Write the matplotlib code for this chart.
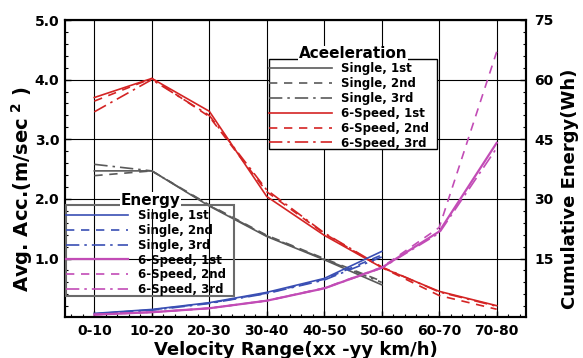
import matplotlib
matplotlib.use("Agg")
import matplotlib.pyplot as plt
from matplotlib.patches import Rectangle
from matplotlib.ticker import MultipleLocator

categories = ['0-10', '10-20', '20-30', '30-40', '40-50', '50-60', '60-70', '70-80']

# Acceleration (left axis, m/sec^2)
acc_single_1st = [2.47, 2.47, 1.88, 1.37, 0.98, 0.56]
acc_single_2nd = [2.39, 2.47, 1.90, 1.39, 1.00, 0.62]
acc_single_3rd = [2.58, 2.47, 1.89, 1.38, 0.99, 0.60]
acc_six_1st = [3.70, 4.02, 3.47, 2.04, 1.39, 0.85, 0.45, 0.21]
acc_six_2nd = [3.64, 4.02, 3.38, 2.12, 1.42, 0.85, 0.38, 0.15]
acc_six_3rd = [3.46, 4.00, 3.40, 2.15, 1.43, 0.86, 0.44, 0.20]

# Cumulative energy (right axis, Wh)
en_single_1st = [1.2, 2.2, 3.9, 6.5, 10.0, 16.8]
en_single_2nd = [1.1, 2.1, 3.8, 6.3, 9.8, 15.9]
en_single_3rd = [1.0, 2.0, 3.7, 6.2, 9.6, 15.4]
en_six_1st = [0.9, 1.5, 2.5, 4.4, 7.5, 12.7, 21.8, 44.1]
en_six_2nd = [0.9, 1.5, 2.5, 4.4, 7.6, 12.8, 22.8, 67.0]
en_six_3rd = [0.9, 1.5, 2.5, 4.4, 7.5, 12.6, 21.4, 42.8]

acc_labels = ['Single, 1st', 'Single, 2nd', 'Single, 3rd',
              '6-Speed, 1st', '6-Speed, 2nd', '6-Speed, 3rd']
en_labels = acc_labels

GRAY = '#5a5a5a'
RED = '#d42424'
BLUE = '#3a4fb4'
MAG = '#c24cb6'
DASH = (0, (5, 4))
DASHDOT = (0, (8, 3, 1.5, 3))

plt.rcParams['font.family'] = ['DejaVu Sans']
plt.rcParams['font.weight'] = 'bold'
plt.rcParams['mathtext.default'] = 'bf'

fig = plt.figure(figsize=(5.83, 3.58), dpi=100)
ax = fig.add_axes([65 / 583, 1 - 317 / 358, 461 / 583, 297 / 358])
ax2 = ax.twinx()

x_all = list(range(len(categories)))

def xs(vals):
    return x_all[:len(vals)]

lw = 1.2
acc_lines = []
acc_lines += ax.plot(xs(acc_single_1st), acc_single_1st, color=GRAY, lw=lw, ls='-')
acc_lines += ax.plot(xs(acc_single_2nd), acc_single_2nd, color=GRAY, lw=lw, ls=DASH)
acc_lines += ax.plot(xs(acc_single_3rd), acc_single_3rd, color=GRAY, lw=lw, ls=DASHDOT)
acc_lines += ax.plot(xs(acc_six_1st), acc_six_1st, color=RED, lw=lw, ls='-')
acc_lines += ax.plot(xs(acc_six_2nd), acc_six_2nd, color=RED, lw=lw, ls=DASH)
acc_lines += ax.plot(xs(acc_six_3rd), acc_six_3rd, color=RED, lw=lw, ls=DASHDOT)

en_lines = []
en_lines += ax2.plot(xs(en_single_1st), en_single_1st, color=BLUE, lw=lw, ls='-')
en_lines += ax2.plot(xs(en_single_2nd), en_single_2nd, color=BLUE, lw=lw, ls=DASH)
en_lines += ax2.plot(xs(en_single_3rd), en_single_3rd, color=BLUE, lw=lw, ls=DASHDOT)
en_lines += ax2.plot(xs(en_six_1st), en_six_1st, color=MAG, lw=1.6, ls='-')
en_lines += ax2.plot(xs(en_six_2nd), en_six_2nd, color=MAG, lw=lw, ls=DASH)
en_lines += ax2.plot(xs(en_six_3rd), en_six_3rd, color=MAG, lw=lw, ls=DASHDOT)

ymin = 0.02
ax.set_xlim(-0.51, 7.51)
ax.set_ylim(ymin, 5.0)
ax2.set_ylim(ymin * 15, 75)

ax.set_xticks(x_all)
ax.set_xticklabels(categories, fontsize=10, fontweight='bold')
ax.xaxis.set_minor_locator(MultipleLocator(0.2))
ax.set_yticks([1, 2, 3, 4, 5])
ax.set_yticklabels(['1.0', '2.0', '3.0', '4.0', '5.0'], fontsize=10, fontweight='bold')
ax.yaxis.set_minor_locator(MultipleLocator(0.2))
ax2.set_yticks([15, 30, 45, 60, 75])
ax2.set_yticklabels(['15', '30', '45', '60', '75'], fontsize=10, fontweight='bold')
ax2.yaxis.set_minor_locator(MultipleLocator(3))

ax.tick_params(axis='both', which='major', direction='in', length=4, width=1, pad=4, top=False)
ax.tick_params(axis='both', which='minor', direction='in', length=2.2, width=0.8, top=False)
ax.tick_params(axis='x', which='major', pad=5)
ax2.tick_params(axis='y', which='major', direction='in', length=4, width=1, pad=6)
ax2.tick_params(axis='y', which='minor', direction='in', length=2.2, width=0.8)

ax.grid(True, which='major', color='black', lw=0.8)
ax.set_axisbelow(True)

for a in (ax, ax2):
    for s in a.spines.values():
        s.set_linewidth(1.5)
        s.set_color('black')

ax.set_xlabel('Velocity Range(xx -yy km/h)', fontsize=13, fontweight='bold', labelpad=2)
ax.set_ylabel(r'Avg. Acc.(m/sec$^{\ 2}$ )', fontsize=14, fontweight='bold')
ax2.set_ylabel('Cumulative Energy(Wh)', fontsize=13, fontweight='bold')
ax.yaxis.set_label_coords(-0.064, 0.43)
ax2.yaxis.set_label_coords(1.076, 0.43)

# Acceleration legend (opaque box, title on border)
ax.add_patch(Rectangle((0.443, 0.566), 0.808 - 0.443, 0.869 - 0.566, transform=ax.transAxes,
                       facecolor='white', edgecolor='black', lw=1.0, zorder=4, clip_on=False))
leg1 = ax.legend(acc_lines, acc_labels, loc='upper left', bbox_to_anchor=(0.443, 0.858),
                 frameon=False, borderpad=0, borderaxespad=0, handlelength=5.3,
                 handletextpad=0.8, labelspacing=0.16,
                 prop={'size': 8.5, 'weight': 'bold'})
leg1.set_zorder(6)
ax.text(0.625, 0.886, 'Aceeleration', transform=ax.transAxes, ha='center', va='center',
        fontsize=11, fontweight='bold', zorder=7,
        bbox=dict(facecolor='white', edgecolor='none', pad=0.5))

# Energy legend (transparent box, title on border)
ax2.add_patch(Rectangle((0.0015, 0.0707), 0.3666 - 0.0015, 0.377 - 0.0707, transform=ax2.transAxes,
                        facecolor='none', edgecolor='#6a6a6a', lw=1.5, zorder=4, clip_on=False))
leg2 = ax2.legend(en_lines, en_labels, loc='upper left', bbox_to_anchor=(0.0015, 0.364),
                  frameon=False, borderpad=0, borderaxespad=0, handlelength=5.3,
                  handletextpad=0.8, labelspacing=0.16,
                  prop={'size': 8.5, 'weight': 'bold'})
leg2.set_zorder(6)
ax2.text(0.186, 0.392, 'Energy', transform=ax2.transAxes, ha='center', va='center',
         fontsize=11, fontweight='bold', zorder=7,
         bbox=dict(facecolor='white', edgecolor='none', pad=0.5))

fig.savefig('out.png', dpi=100)
